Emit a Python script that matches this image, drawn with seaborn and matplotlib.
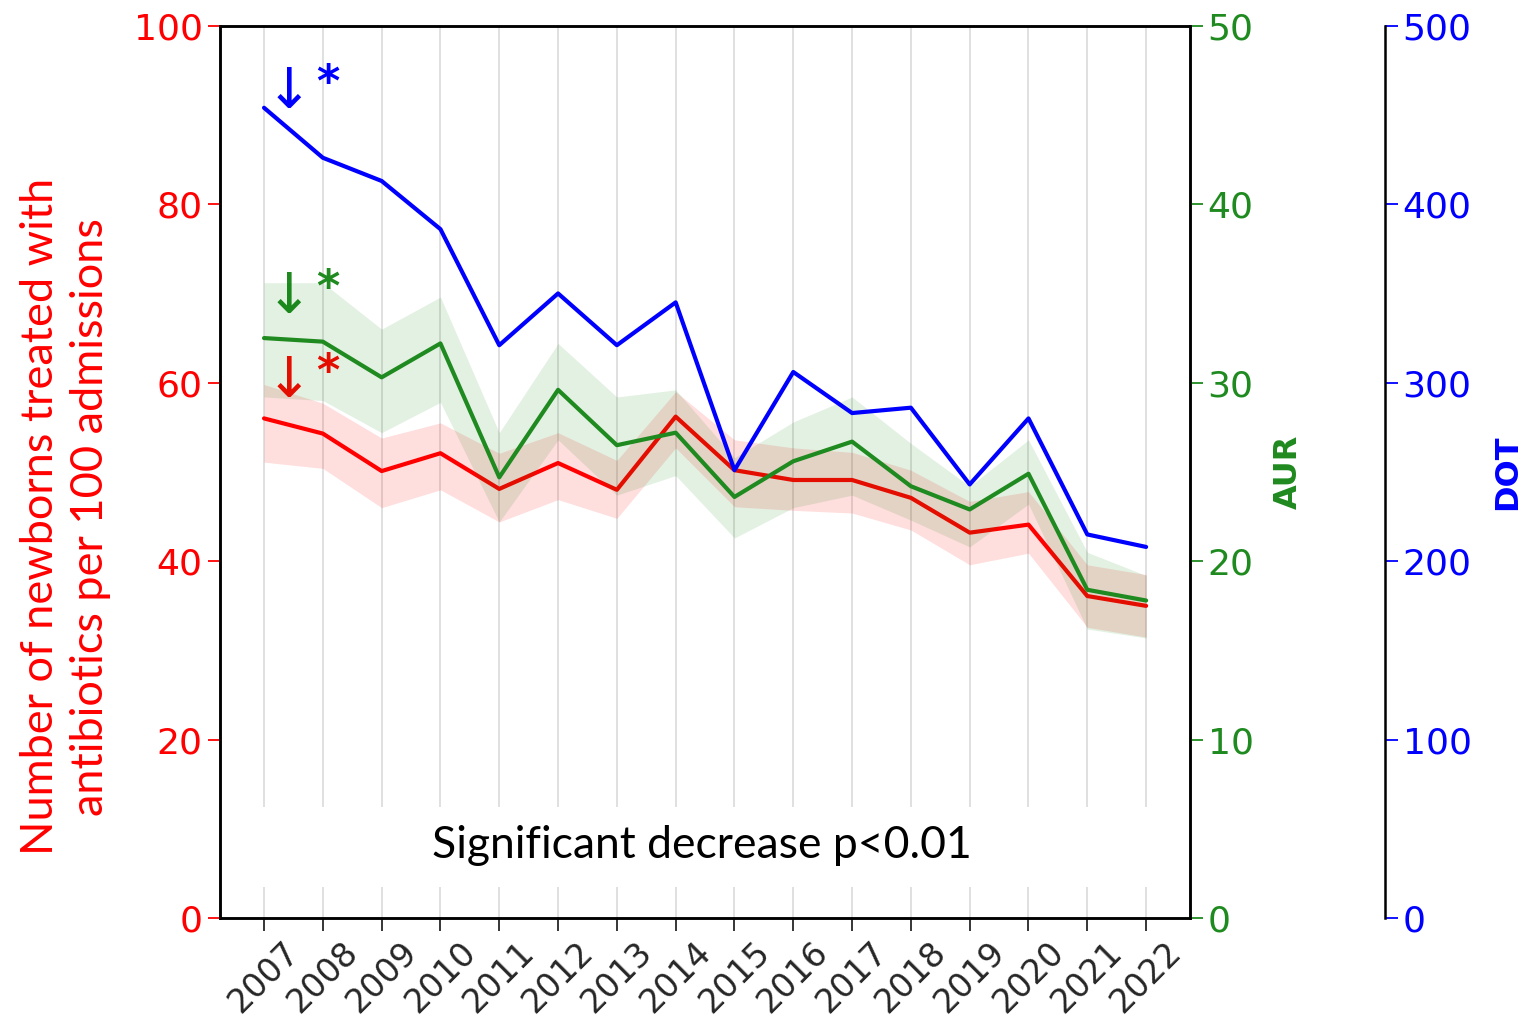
import numpy as np
import pandas as pd
import seaborn as sns
import matplotlib.pyplot as plt
from matplotlib.patches import Rectangle

years = list(range(2007, 2023))

# newborns treated per 100 admissions (left axis)
treated = [56.0, 54.3, 50.1, 52.1, 48.1, 51.0, 48.0, 56.2, 50.2, 49.1, 49.1, 47.1, 43.2, 44.1, 36.1, 35.0]
treated_hi = [59.8, 57.7, 53.8, 55.5, 52.1, 54.4, 51.3, 59.0, 53.6, 52.7, 52.2, 50.2, 46.7, 47.8, 39.6, 38.5]
treated_lo = [51.1, 50.4, 46.0, 48.0, 44.4, 46.9, 44.8, 52.7, 46.1, 45.7, 45.4, 43.5, 39.6, 40.9, 32.6, 31.5]

# AUR (first right axis)
aur = [32.5, 32.3, 30.3, 32.2, 24.7, 29.6, 26.5, 27.2, 23.6, 25.6, 26.7, 24.2, 22.9, 24.9, 18.4, 17.8]
aur_hi = [35.6, 35.6, 33.0, 34.8, 27.2, 32.2, 29.2, 29.6, 25.8, 27.8, 29.2, 26.6, 24.2, 26.8, 20.5, 19.2]
aur_lo = [29.2, 29.0, 27.2, 28.9, 22.2, 26.8, 23.7, 24.8, 21.3, 23.0, 23.7, 22.3, 20.8, 23.2, 16.2, 15.7]

# DOT (second right axis)
dot = [454, 426, 413, 386, 321, 350, 321, 345, 251, 306, 283, 286, 243, 280, 215, 208]

df = pd.DataFrame({"year": years, "treated": treated, "aur": aur, "dot": dot})

RED = "#ff0000"
GREEN = "#1f8a1f"
BLUE = "#0000ff"
NARROW = ["Lato", "DejaVu Sans"]

sns.set_style("ticks")
plt.rcParams["font.family"] = ["DejaVu Sans"]

fig = plt.figure(figsize=(15.22, 10.26), dpi=100)
ax = fig.add_axes([0.1445, 0.105, 0.6375, 0.87])
ax2 = ax.twinx()
ax3 = ax.twinx()
ax3.spines["right"].set_position(("axes", 1.201))

# light vertical grid, hidden behind the note
for y in years:
    ax.axvline(y, color="#dddddd", lw=1.3, zorder=0)
ax.add_patch(Rectangle((0.02, 0.035), 0.96, 0.09, transform=ax.transAxes,
                       facecolor="white", edgecolor="none", zorder=0.5))

ax.fill_between(years, treated_lo, treated_hi, color=RED, alpha=0.13, lw=0)
sns.lineplot(data=df, x="year", y="treated", ax=ax, color=RED, lw=3)
ax2.fill_between(years, aur_lo, aur_hi, color="green", alpha=0.11, lw=0)
sns.lineplot(data=df, x="year", y="aur", ax=ax2, color=GREEN, lw=3)
sns.lineplot(data=df, x="year", y="dot", ax=ax3, color=BLUE, lw=3)

ax.set_xlim(2006.25, 2022.75)
ax.set_ylim(0, 100)
ax2.set_ylim(0, 50)
ax3.set_ylim(0, 500)
ax.set_xticks(years)
ax.set_xticklabels([str(y) for y in years], rotation=45, fontsize=24)
ax.set_yticks([0, 20, 40, 60, 80, 100])
ax2.set_yticks([0, 10, 20, 30, 40, 50])
ax3.set_yticks([0, 100, 200, 300, 400, 500])

ax.tick_params(axis="y", colors=RED, labelsize=26, length=9, width=1.3)
ax.tick_params(axis="x", length=9, width=1.3)
ax2.tick_params(axis="y", colors=GREEN, labelsize=26, length=9, width=1.3)
ax3.tick_params(axis="y", colors=BLUE, labelsize=26, length=9, width=1.3)

for a in (ax, ax2, ax3):
    for s in a.spines.values():
        s.set_color("black")
        s.set_linewidth(1.8)
ax3.spines["top"].set_visible(False)
ax3.spines["bottom"].set_visible(False)
ax3.spines["left"].set_visible(False)

ax.set_xlabel("")
ax.set_ylabel("Number of newborns treated with\nantibiotics per 100 admissions",
              color=RED, fontsize=32.5, family=NARROW, linespacing=1.28)
ax.yaxis.set_label_coords(-0.112, 0.45)
ax2.set_ylabel("AUR", color=GREEN, fontsize=23, fontweight="bold", labelpad=14)
ax3.set_ylabel("DOT", color=BLUE, fontsize=23, fontweight="bold", labelpad=15)

# significance markers
for yv, col in [(92.5, BLUE), (69.5, GREEN), (60.1, RED)]:
    ax.text(2007.43, yv, "\u2193", color=col, fontsize=40, ha="center", va="center")
    ax.text(2008.08, yv + 1.0, "*", color=col, fontsize=32, fontweight="bold",
            ha="center", va="center")

ax.text(2014.45, 8.2, "Significant decrease p<0.01", fontsize=32, family=NARROW,
        ha="center", va="center", color="black")

fig.savefig("out.png", dpi=100)
